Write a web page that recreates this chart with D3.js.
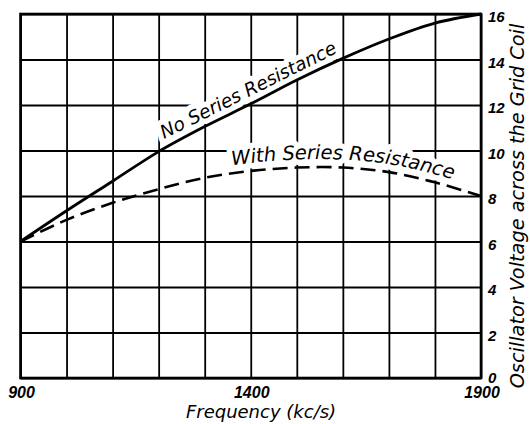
<!DOCTYPE html>
<html><head><meta charset="utf-8">
<script src="https://cdn.jsdelivr.net/npm/d3@7"></script>
<style>
html,body{margin:0;padding:0;background:#fff;}
svg{display:block;}
.lbl{font-family:"DejaVu Sans",sans-serif;font-style:italic;}
.num{font-family:"Liberation Sans",Arial,sans-serif;font-style:italic;font-weight:bold;}
</style></head>
<body>
<script>
// ---- data ----
const freq       = [900, 1000, 1100, 1200, 1300, 1400, 1500, 1600, 1700, 1800, 1900];
const noSeries   = [6, 7.35, 8.65, 9.95, 11.05, 12.05, 13.1, 14.05, 14.9, 15.6, 16];
const withSeries = [6, 6.95, 7.7, 8.3, 8.8, 9.1, 9.25, 9.25, 9.05, 8.6, 8];
const xGrid      = [900, 1000, 1100, 1200, 1300, 1400, 1500, 1600, 1700, 1800, 1900];
const xTickLabels= [900, 1400, 1900];
const yTicks     = [0, 2, 4, 6, 8, 10, 12, 14, 16];
const seriesNames= ["No Series Resistance", "With Series Resistance"];
const xTitle = "Frequency (kc/s)";
const yTitle = "Oscillator Voltage across the Grid Coil";

// ---- layout ----
const W = 530, H = 424;
const L = 20.5, R = 481, T = 14, B = 378;
const x = d3.scaleLinear().domain([900, 1900]).range([L, R]);
const y = d3.scaleLinear().domain([0, 16]).range([B, T]);

const svg = d3.select("body").append("svg").attr("width", W).attr("height", H);

// grid
svg.append("g").attr("transform", `translate(0,${B})`)
  .call(d3.axisBottom(x).tickValues(xGrid).tickSize(-(B - T)).tickFormat(""))
  .call(g => g.select(".domain").remove())
  .selectAll("line").attr("stroke", "#000").attr("stroke-width", 1.8);
svg.append("g").attr("transform", `translate(${L},0)`)
  .call(d3.axisLeft(y).tickValues(yTicks).tickSize(-(R - L)).tickFormat(""))
  .call(g => g.select(".domain").remove())
  .selectAll("line").attr("stroke", "#000").attr("stroke-width", 1.8);

// frame
svg.append("rect").attr("x", L).attr("y", T).attr("width", R - L).attr("height", B - T)
  .attr("fill", "none").attr("stroke", "#000").attr("stroke-width", 2.6);

const ptsA = freq.map((f, i) => [f, noSeries[i]]);
const ptsB = freq.map((f, i) => [f, withSeries[i]]);
const line = d3.line().x(d => x(d[0])).y(d => y(d[1])).curve(d3.curveCatmullRom.alpha(0.5));

// series labels (white halo breaks the grid, as in the print)
const lineOff = d3.line().x(d => x(d[0])).y(d => y(d[1]) - 8).curve(d3.curveCatmullRom.alpha(0.5));
const defs = svg.append("defs");
const pB = defs.append("path").attr("id", "pathB").attr("d", lineOff(ptsB));
function offsetAtX(pathNode, tx) {
  let lo = 0, hi = pathNode.getTotalLength();
  for (let k = 0; k < 40; k++) {
    const mid = (lo + hi) / 2;
    if (pathNode.getPointAtLength(mid).x < tx) lo = mid; else hi = mid;
  }
  return lo;
}
const offB = offsetAtX(pB.node(), 232);

[true, false].forEach(halo => {
  const tA = svg.append("text").attr("class", "lbl")
    .attr("transform", `translate(164,139) rotate(-26.5)`)
    .attr("font-size", 18.5)
    .text(seriesNames[0]);
  const tB = svg.append("text").attr("class", "lbl").attr("font-size", 19.5);
  tB.append("textPath").attr("href", "#pathB").attr("startOffset", offB).text(seriesNames[1]);
  [tA, tB].forEach(t => {
    if (halo) t.attr("fill", "#fff").attr("stroke", "#fff").attr("stroke-width", 11).attr("stroke-linejoin", "round");
    else t.attr("fill", "#000");
  });
});

// curves
svg.append("path").attr("d", line(ptsA)).attr("fill", "none")
  .attr("stroke", "#000").attr("stroke-width", 2.8);
svg.append("path").attr("d", line(ptsB)).attr("fill", "none")
  .attr("stroke", "#000").attr("stroke-width", 2.6).attr("stroke-dasharray", "15,7");

// y tick labels (right side)
svg.append("g").selectAll("text").data(yTicks).join("text")
  .attr("class", "num").attr("font-size", 15)
  .attr("x", R + 7).attr("y", d => d === 0 ? y(d) + 4.5 : y(d) + 8)
  .text(d => d);

// x tick labels
svg.append("g").selectAll("text").data(xTickLabels).join("text")
  .attr("class", "num").attr("font-size", 16).attr("text-anchor", "middle")
  .attr("x", d => x(d) + 1).attr("y", 398)
  .text(d => d);

// titles
svg.append("text").attr("class", "lbl").attr("font-size", 18).attr("text-anchor", "middle")
  .attr("x", 261).attr("y", 418).text(xTitle);
svg.append("text").attr("class", "lbl").attr("font-size", 19.3).attr("text-anchor", "middle")
  .attr("transform", "translate(524,206) rotate(-90)").text(yTitle);
</script>
</body></html>
